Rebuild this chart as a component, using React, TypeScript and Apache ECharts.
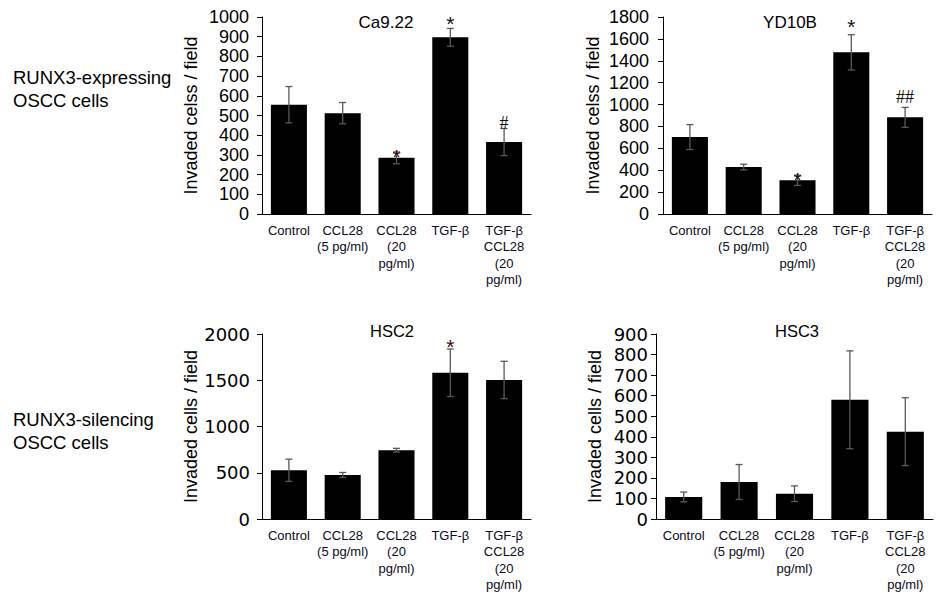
import React, { useEffect, useRef } from "react";
import * as echarts from "echarts";

const categories = [
  "Control",
  "CCL28\n(5 pg/ml)",
  "CCL28\n(20\npg/ml)",
  "TGF-β",
  "TGF-β\nCCL28\n(20\npg/ml)",
];

const ca922Mean = [555, 512, 285, 897, 365];
const ca922Err = [92, 54, 30, 45, 69];
const yd10bMean = [703, 429, 308, 1477, 883];
const yd10bErr = [114, 26, 47, 161, 91];
const hsc2Mean = [527, 476, 744, 1581, 1503];
const hsc2Err = [120, 27, 20, 257, 202];
const hsc3Mean = [107, 180, 123, 580, 425];
const hsc3Err = [24, 85, 38, 238, 165];

// annotations: [category index, value position, mark]
const ca922Marks: [number, number, string][] = [
  [2, 310, "*"],
  [3, 985, "*"],
  [4, 468, "#"],
];
const yd10bMarks: [number, number, string][] = [
  [2, 356, "*"],
  [3, 1748, "*"],
  [4, 1078, "##"],
];
const hsc2Marks: [number, number, string][] = [[3, 1909, "*"]];
const hsc3Marks: [number, number, string][] = [];

const panelTitles = ["Ca9.22", "YD10B", "HSC2", "HSC3"];
const yNames = [
  "Invaded celss / field",
  "Invaded celss / field",
  "Invaded cells / field",
  "Invaded cells / field",
];
const yMax = [1000, 1800, 2000, 900];
const yInterval = [100, 200, 500, 100];

const SANS = "Liberation Sans, Arial, sans-serif";

export default function App() {
  const ref = useRef<HTMLDivElement>(null);
  useEffect(() => {
    if (!ref.current) return;
    const chart = echarts.init(ref.current, null, { renderer: "svg" });
    const grids = [
      { left: 262, top: 17, width: 269, height: 197 },
      { left: 663, top: 17, width: 269, height: 197 },
      { left: 262, top: 334, width: 269, height: 185 },
      { left: 656, top: 334, width: 277, height: 185 },
    ];
    const means = [ca922Mean, yd10bMean, hsc2Mean, hsc3Mean];
    const errs = [ca922Err, yd10bErr, hsc2Err, hsc3Err];
    const marks = [ca922Marks, yd10bMarks, hsc2Marks, hsc3Marks];
    const nameGaps = [62, 61, 60, 52];
    const tickFonts = [SANS, SANS, "DejaVu Sans, sans-serif", "DejaVu Sans, sans-serif"];
    const labelMargins = [13, 14, 12, 8];

    const xAxis = grids.map((_, i) => ({
      type: "category",
      gridIndex: i,
      data: categories,
      axisLine: { show: true, lineStyle: { color: "#000", width: 1 } },
      axisTick: { show: false },
      axisLabel: {
        interval: 0,
        color: "#0a0a1a",
        fontFamily: SANS,
        fontSize: 13,
        lineHeight: 16.5,
        margin: 8,
      },
    }));
    const yAxis = grids.map((_, i) => ({
      type: "value",
      gridIndex: i,
      min: 0,
      max: yMax[i],
      interval: yInterval[i],
      name: yNames[i],
      nameLocation: "middle",
      nameGap: nameGaps[i],
      nameTextStyle: { fontFamily: SANS, fontSize: 18, color: "#000" },
      splitLine: { show: false },
      axisLine: { show: true, lineStyle: { color: "#000", width: 1 } },
      axisTick: { show: true, length: 5, lineStyle: { color: "#000" } },
      axisLabel: {
        color: "#000",
        fontFamily: tickFonts[i],
        fontSize: 18,
        margin: labelMargins[i],
        formatter: (v: number) => String(v),
      },
    }));

    const series: any[] = [];
    grids.forEach((_, i) => {
      series.push({
        type: "bar",
        xAxisIndex: i,
        yAxisIndex: i,
        data: means[i],
        barCategoryGap: "33%",
        itemStyle: { color: "#000" },
      });
      series.push({
        type: "custom",
        xAxisIndex: i,
        yAxisIndex: i,
        data: means[i].map((m, k) => [k, m - errs[i][k], m + errs[i][k]]),
        encode: { x: 0, y: [1, 2] },
        z: 5,
        renderItem: (params: any, api: any) => {
          const x = api.value(0);
          const top = api.coord([x, api.value(2)]);
          const bot = api.coord([x, api.value(1)]);
          const hw = 3.5;
          const st = { stroke: "#595959", lineWidth: 1.3 };
          return {
            type: "group",
            children: [
              { type: "line", shape: { x1: top[0], y1: top[1], x2: bot[0], y2: bot[1] }, style: st },
              { type: "line", shape: { x1: top[0] - hw, y1: top[1], x2: top[0] + hw, y2: top[1] }, style: st },
              { type: "line", shape: { x1: bot[0] - hw, y1: bot[1], x2: bot[0] + hw, y2: bot[1] }, style: st },
            ],
          };
        },
      });
      const mk = marks[i];
      if (mk.length) {
        series.push({
          type: "custom",
          xAxisIndex: i,
          yAxisIndex: i,
          data: mk.map((m) => [m[0], m[1]]),
          encode: { x: 0, y: 1 },
          z: 10,
          renderItem: (params: any, api: any) => {
            const p = api.coord([api.value(0), api.value(1)]);
            const t = mk[params.dataIndex][2];
            const isStar = t === "*";
            return {
              type: "text",
              x: p[0],
              y: p[1] + (isStar ? 4 : 1),
              z2: 10,
              style: {
                text: t,
                fill: isStar && ((i === 0 && mk[params.dataIndex][0] === 2) || i === 2) ? "#3a0808" : "#111",
                font: isStar ? `21px ${SANS}` : `18px Liberation Serif, serif`,
                align: "center",
                verticalAlign: "middle",
              },
            };
          },
        });
      }
    });

    const titlePos = [
      { x: 386, y: 22, size: 17 },
      { x: 790, y: 22, size: 17 },
      { x: 392, y: 331, size: 16.5 },
      { x: 797, y: 331, size: 16.5 },
    ];
    const graphic: any[] = titlePos.map((p, i) => ({
      type: "text",
      x: p.x,
      y: p.y,
      style: {
        text: panelTitles[i],
        font: `${p.size}px ${SANS}`,
        fill: "#000",
        align: "center",
        verticalAlign: "middle",
      },
    }));
    const sideLabels = [
      { text: "RUNX3-expressing", y: 77 },
      { text: "OSCC cells", y: 100 },
      { text: "RUNX3-silencing", y: 419 },
      { text: "OSCC cells", y: 442 },
    ];
    sideLabels.forEach((s) =>
      graphic.push({
        type: "text",
        x: 13,
        y: s.y,
        style: {
          text: s.text,
          font: `18.5px ${SANS}`,
          fill: "#000",
          align: "left",
          verticalAlign: "middle",
        },
      })
    );

    chart.setOption({
      animation: false,
      backgroundColor: "#fff",
      grid: grids,
      xAxis,
      yAxis,
      series,
      graphic,
    });
    return () => chart.dispose();
  }, []);
  return (
    <div
      ref={ref}
      style={{ position: "fixed", left: 0, top: 0, width: 950, height: 598, background: "#fff" }}
    />
  );
}
